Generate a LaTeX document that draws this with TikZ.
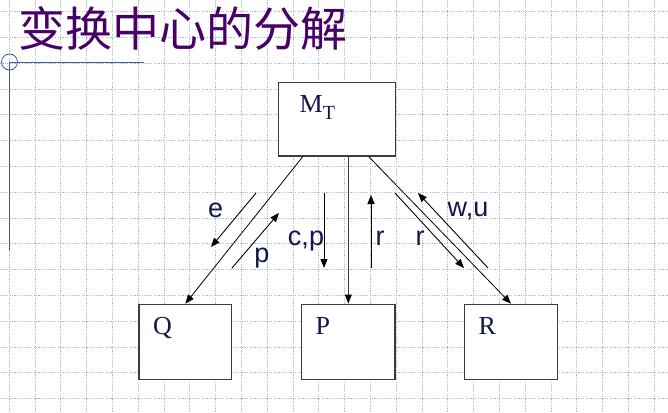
\documentclass[tikz,border=0pt]{standalone}
\usepackage{fontspec}
\setmainfont{Liberation Serif}
\newfontfamily\cjk{Noto Sans CJK SC}
\newfontfamily\lsans{Liberation Sans}
\usetikzlibrary{arrows.meta,calc}
\definecolor{gridc}{RGB}{170,192,194}
\definecolor{titlec}{RGB}{72,0,104}
\definecolor{navy}{RGB}{20,20,80}
\definecolor{decoc}{RGB}{70,90,150}
\definecolor{boxc}{RGB}{60,60,60}
\tikzset{
  gridline/.style={draw=gridc,line width=0.9pt,dash pattern=on 1.2pt off 1.2pt},
  boxnode/.style={draw=boxc,line width=1.2pt,fill=white,rectangle,inner sep=0pt},
  serifl/.style={text=navy,font=\fontsize{26}{26}\selectfont,inner sep=0pt},
  sansl/.style={text=navy,font=\lsans\fontsize{27}{27}\selectfont,inner sep=0pt,anchor=base},
  conn/.style={draw=black,line width=0.8pt,-{Triangle[length=9pt,width=7pt]}},
  flow/.style={draw=black,line width=0.9pt,-{Triangle[length=9pt,width=7pt]}},
}
\begin{document}
\begin{tikzpicture}[x=1pt,y=-1pt]
\useasboundingbox (0,0) rectangle (668,412);
\fill[white] (0,0) rectangle (668,412);
% grid
\foreach \k in {0,...,25}{\draw[gridline] ({9.3+25.8*\k},0) -- ({9.3+25.8*\k},412);}
\foreach \k in {0,...,15}{\draw[gridline] (0,{11.7+25.8*\k}) -- (668,{11.7+25.8*\k});}
% decoration
\draw[decoc,line width=1.2pt] (9.5,62) -- (9.5,251);
\draw[decoc,line width=1pt] (9,62) -- (144,62);
\draw[decoc,line width=0.8pt] (9.5,62) circle[radius=8];
% title
\node[anchor=west,inner sep=0pt,text=titlec,font=\cjk\fontsize{47}{47}\selectfont] (title) at (18,28) {变换中心的分解};
% boxes
\node[boxnode,minimum width=117pt,minimum height=73.7pt] (mt) at (336.8,119.2) {};
\node[boxnode,minimum width=92.7pt,minimum height=75pt] (q) at (185.3,341.8) {};
\node[boxnode,minimum width=93.3pt,minimum height=75pt] (p) at (348.3,341.8) {};
\node[boxnode,minimum width=93.3pt,minimum height=75pt] (r) at (511,341.8) {};
% box labels
\node[serifl,anchor=base west] (mtl) at (299.5,112.7) {M\raisebox{-6.5pt}{\fontsize{20}{20}\selectfont T}};
\node[serifl,anchor=base west] (ql) at (153,334.3) {Q};
\node[serifl,anchor=base west] (pl) at (315.5,334.3) {P};
\node[serifl,anchor=base west] (rl) at (478.5,334.3) {R};
% main connectors
\draw[conn] ($(mt.south west)!0.212!(mt.south east)$) -- (q.north);
\draw[draw=boxc,line width=1.4pt,-{Triangle[length=9pt,width=7pt,color=black,line width=0pt]}] (p.north |- mt.south) -- (p.north);
\draw[conn] ($(mt.south west)!0.77!(mt.south east)$) -- (r.north);
% flow arrows
\coordinate (e1) at (256,193); \coordinate (e2) at (211,247);
\coordinate (p1) at (232,268); \coordinate (p2) at (279,213);
\coordinate (c1) at (324,193); \coordinate (c2) at (324,268);
\coordinate (r1) at (371,268); \coordinate (r2) at (371,195);
\coordinate (s1) at (395,193); \coordinate (s2) at (464,268);
\coordinate (w1) at (488,268); \coordinate (w2) at (418,193);
\draw[flow] (e1) -- (e2);
\draw[flow] (p1) -- (p2);
\draw[flow] (c1) -- (c2);
\draw[flow] (r1) -- (r2);
\draw[flow] (s1) -- (s2);
\draw[flow] (w1) -- (w2);
% flow labels
\node[sansl] (el) at (215.7,217.7) {e};
\node[sansl] (pl2) at (262,262.5) {p};
\node[sansl] (cpl) at (306,245) {c,p};
\node[sansl] (rl1) at (380,245) {r};
\node[sansl] (rl2) at (420,245) {r};
\node[sansl] (wul) at (468,216.7) {w,u};
\end{tikzpicture}
\end{document}
